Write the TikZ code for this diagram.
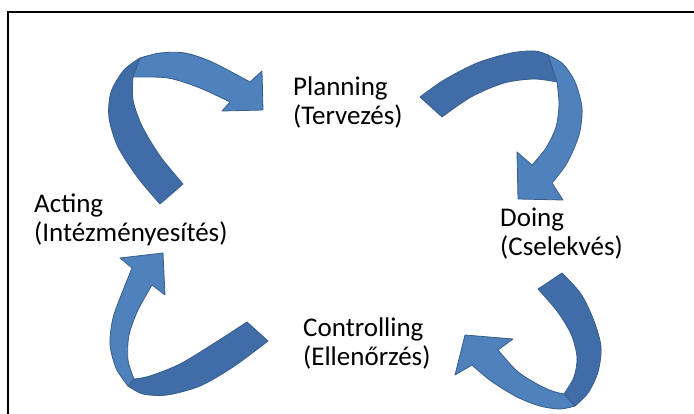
\documentclass[tikz,border=0pt]{standalone}
\usepackage{fontspec}
\setmainfont{Carlito}
\usepackage{tikz}
\usetikzlibrary{positioning}

\definecolor{facefront}{RGB}{79,129,189}
\definecolor{faceback}{RGB}{64,109,168}
\definecolor{faceline}{RGB}{56,93,138}

\begin{document}
\begin{tikzpicture}[
    x=1pt, y=-1pt,
    font=\fontsize{27}{29}\selectfont,
    phase/.style={align=left, inner sep=0pt, anchor=base west},
    front/.style={fill=facefront, draw=faceline, line width=0.8pt, line join=round},
    back/.style={fill=faceback, draw=faceline, line width=0.8pt, line join=round},
    frame/.style={draw, line width=2pt}
]
    \useasboundingbox (0,0) rectangle (694,414);
    \clip (0,0) rectangle (694,414);

    % --- frame (open to the right and bottom) ---
    \draw [frame] (7.5,430) |- (710,12.5);

    % --- phase labels (base = baseline of the second line) ---
    \node [phase] (planning) at (293,125) {Planning\\(Tervezés)};
    \node [phase] (doing) at (500,256) {Doing\\(Cselekvés)};
    \node [phase] (controlling) at (303,366) {Controlling\\(Ellenőrzés)};
    \node [phase] (acting) at (34,242) {Acting\\(Intézményesítés)};

    % --- acting -> planning ---
    \path [back] (160,204) -- plot[smooth] coordinates {(160,204) (138,178) (118,147) (109,118) (111,92) (124,70) (140,58)}
        -- (133,77) -- plot[smooth] coordinates {(133,77) (133,100) (142,126) (160,156) (183,184)} -- cycle;
    \path [front] (133,77) -- (140,58) -- plot[smooth] coordinates {(140,58) (160,53) (185,53) (212,62) (250,82)}
        -- (262,71) -- (263,110) -- (222,111) -- (230,102)
        -- plot[smooth] coordinates {(230,102) (200,88) (168,78) (133,77)} -- cycle;

    % --- planning -> doing ---
    \path [back] (420,97) -- plot[smooth] coordinates {(420,97) (444,80) (477,63) (511,53) (535,51) (548,55)}
        -- (557,82) -- plot[smooth] coordinates {(557,82) (534,79) (504,83) (471,97) (442,117)} -- cycle;
    \path [front] (557,82) -- (548,55) -- plot[smooth] coordinates {(548,55) (563,64) (575,82) (582,108) (579,135) (567,163) (552,183)}
        -- (563,200) -- (518,199) -- (517,152) -- (532,165)
        -- plot[smooth] coordinates {(532,165) (546,148) (556,127) (559,104) (557,82)} -- cycle;

    % --- doing -> controlling ---
    \path [back] (538,289) -- (562,273) -- plot[smooth] coordinates {(562,273) (581,294) (594,321) (601,347) (598,372) (588,393) (575,406)}
        -- (564,394) -- plot[smooth] coordinates {(564,394) (574,377) (577,357) (571,334) (557,311) (538,289)} -- cycle;
    \path [front] (564,394) -- (575,406) -- plot[smooth] coordinates {(575,406) (560,409) (540,406) (517,397) (491,381) (472,365)}
        -- (455,375) -- (465,335) -- (513,339) -- (498,350)
        -- plot[smooth] coordinates {(498,350) (517,371) (537,384) (552,391) (564,394)} -- cycle;

    % --- controlling -> acting ---
    \path [back] (247,322) -- (268,341) -- plot[smooth] coordinates {(268,341) (233,367) (200,386) (167,395) (143,394) (128,386)}
        -- (134,379) -- plot[smooth] coordinates {(134,379) (150,376) (180,364) (213,344) (247,322)} -- cycle;
    \path [front] (128,386) -- plot[smooth] coordinates {(128,386) (116,368) (110,344) (113,318) (122,293) (132,268)}
        -- (120,258) -- (163,253) -- (165,295) -- (152,285)
        -- plot[smooth] coordinates {(152,285) (138,310) (129,335) (128,360) (134,379)} -- cycle;

\end{tikzpicture}
\end{document}
